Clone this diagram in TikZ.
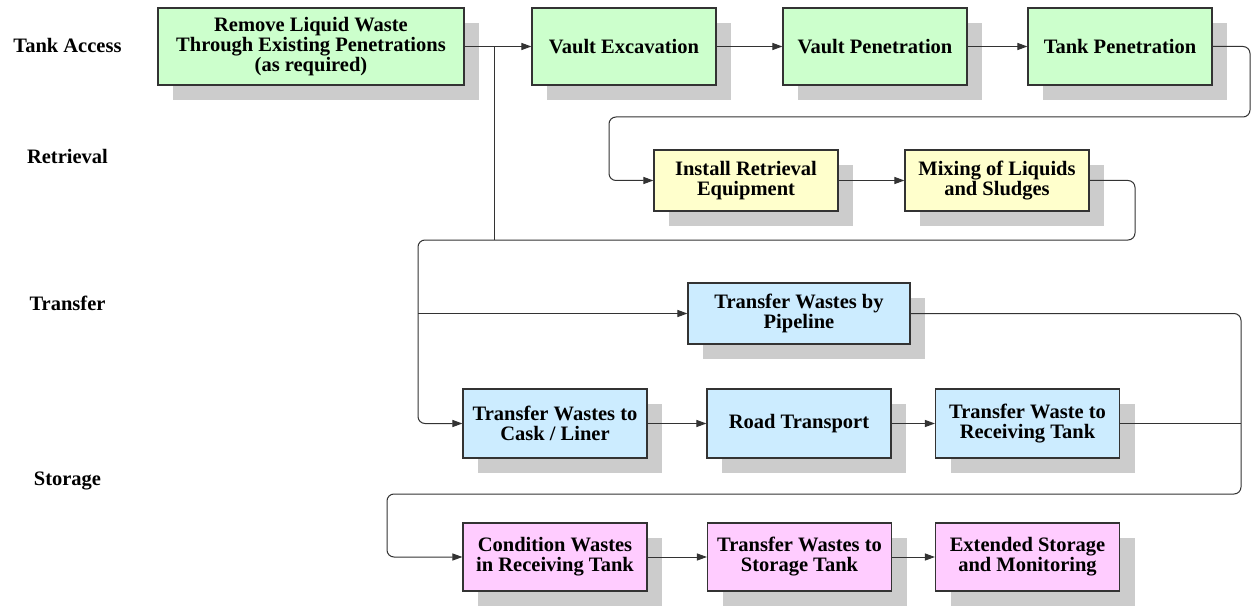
\documentclass[tikz,border=0pt]{standalone}
\usepackage{fontspec}
\setmainfont{Liberation Serif}
\usetikzlibrary{arrows.meta,shadows}
\definecolor{gfill}{HTML}{CCFFCC}
\definecolor{yfill}{HTML}{FFFFCC}
\definecolor{bfill}{HTML}{CCECFF}
\definecolor{pfill}{HTML}{FFCCFF}
\definecolor{shadowc}{HTML}{CCCCCC}
\definecolor{linec}{HTML}{333333}
\begin{document}
\begin{tikzpicture}[x=1pt,y=-1pt,
  box/.style={draw=linec, line width=1.1pt, align=center, inner sep=0pt,
    font=\bfseries\fontsize{20.5}{20}\selectfont,
    drop shadow={shadow xshift=15pt, shadow yshift=-15pt, fill=shadowc, opacity=1, draw=none}},
  gbox/.style={box, fill=gfill},
  ybox/.style={box, fill=yfill},
  bbox/.style={box, fill=bfill},
  pbox/.style={box, fill=pfill},
  lbl/.style={font=\bfseries\fontsize{20.5}{20}\selectfont},
  conn/.style={draw=linec, line width=1pt, rounded corners=7pt},
  arr/.style={conn, -{Triangle[length=10pt,width=7pt]}}
]
\useasboundingbox (0,0) rectangle (1254,607);
\fill[white] (0,0) rectangle (1254,607);

% row labels
\node[lbl] (lta) at (67.5,45) {Tank Access};
\node[lbl] (lre) at (67.5,156) {Retrieval};
\node[lbl] (ltr) at (67.5,303) {Transfer};
\node[lbl] (lst) at (67.5,481) {Storage};

% tank access row
\node[gbox, minimum width=306pt, minimum height=77pt] (b1) at (311,46.5) {Remove Liquid Waste\\Through Existing Penetrations\\(as required)};
\node[gbox, minimum width=184pt, minimum height=77pt] (ve) at (624,46.5) {Vault Excavation};
\node[gbox, minimum width=184pt, minimum height=77pt] (vp) at (875,46.5) {Vault Penetration};
\node[gbox, minimum width=184pt, minimum height=77pt] (tp) at (1120,46.5) {Tank Penetration};

% retrieval row
\node[ybox, minimum width=184pt, minimum height=61pt] (inst) at (746,180.5) {Install Retrieval\\Equipment};
\node[ybox, minimum width=184pt, minimum height=61pt] (mx) at (997,180.5) {Mixing of Liquids\\and Sludges};

% transfer row
\node[bbox, minimum width=222pt, minimum height=61pt] (pipe) at (799,313.5) {Transfer Wastes by\\Pipeline};
\node[bbox, minimum width=184pt, minimum height=69pt] (cask) at (555,423.5) {Transfer Wastes to\\Cask / Liner};
\node[bbox, minimum width=184pt, minimum height=69pt] (road) at (799,423.5) {Road Transport};
\node[bbox, minimum width=184pt, minimum height=69pt] (recv) at (1027.5,423.5) {Transfer Waste to\\Receiving Tank};

% storage row
\node[pbox, minimum width=184pt, minimum height=68pt] (cond) at (555,557) {Condition Wastes\\in Receiving Tank};
\node[pbox, minimum width=184pt, minimum height=68pt] (stor) at (799.5,557) {Transfer Wastes to\\Storage Tank};
\node[pbox, minimum width=184pt, minimum height=68pt] (ext) at (1027.5,557) {Extended Storage\\and Monitoring};

% junction coordinates
\coordinate (j1) at (494,46.5);
\coordinate (j2) at (494,240);
\coordinate (jp) at (418,313.5);
\coordinate (jr) at (1241,423.5);

% connectors
\draw[arr] (b1.east) -- (ve.west);
\draw[arr] (ve.east) -- (vp.west);
\draw[arr] (vp.east) -- (tp.west);
\draw[conn] (j1) -- (j2);
\draw[arr] (tp.east) -- (1250,46.5) -- (1250,117) -- (609,117) -- (609,180.5) -- (inst.west);
\draw[arr] (inst.east) -- (mx.west);
\draw[arr] (mx.east) -- (1135,180.5) -- (1135,240) -- (418,240) -- (418,423.5) -- (cask.west);
\draw[arr] (jp) -- (pipe.west);
\draw[arr] (cask.east) -- (road.west);
\draw[arr] (road.east) -- (recv.west);
\draw[conn] (recv.east) -- (jr);
\draw[arr] (pipe.east) -- (1241,313.5) -- (1241,494) -- (387,494) -- (387,557) -- (cond.west);
\draw[arr] (cond.east) -- (stor.west);
\draw[arr] (stor.east) -- (ext.west);
\end{tikzpicture}
\end{document}
